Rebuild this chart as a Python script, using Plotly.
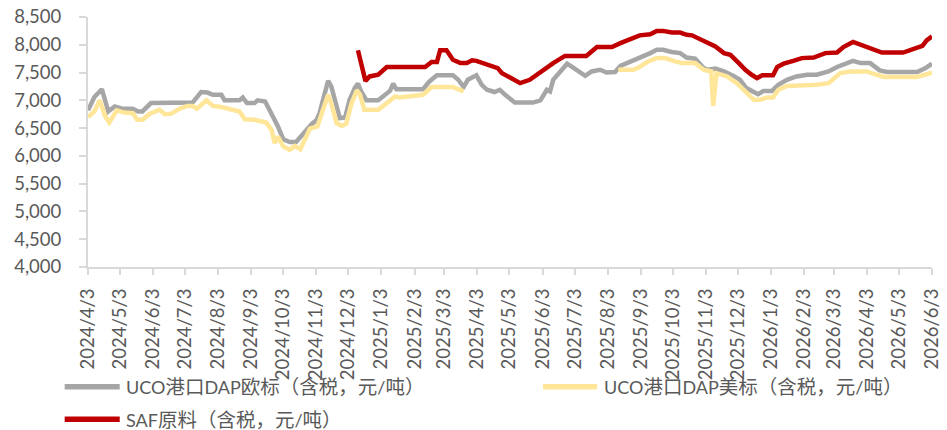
import re
import plotly.graph_objects as go

# ---------------- data ----------------
tick_dates = ["2024-04-03", "2024-05-03", "2024-06-03", "2024-07-03", "2024-08-03", "2024-09-03",
              "2024-10-03", "2024-11-03", "2024-12-03", "2025-01-03", "2025-02-03", "2025-03-03",
              "2025-04-03", "2025-05-03", "2025-06-03", "2025-07-03", "2025-08-03", "2025-09-03",
              "2025-10-03", "2025-11-03", "2025-12-03", "2026-01-03", "2026-02-03", "2026-03-03",
              "2026-04-03", "2026-05-03", "2026-06-03"]
tick_labels = ["2024/4/3", "2024/5/3", "2024/6/3", "2024/7/3", "2024/8/3", "2024/9/3",
               "2024/10/3", "2024/11/3", "2024/12/3", "2025/1/3", "2025/2/3", "2025/3/3",
               "2025/4/3", "2025/5/3", "2025/6/3", "2025/7/3", "2025/8/3", "2025/9/3",
               "2025/10/3", "2025/11/3", "2025/12/3", "2026/1/3", "2026/2/3", "2026/3/3",
               "2026/4/3", "2026/5/3", "2026/6/3"]

gray_dates = ["2024-04-03", "2024-04-09", "2024-04-16", "2024-04-22", "2024-04-28", "2024-05-05",
              "2024-05-15", "2024-05-20", "2024-05-24", "2024-06-01", "2024-07-10", "2024-07-18",
              "2024-07-24", "2024-07-29", "2024-08-06", "2024-08-09", "2024-08-23", "2024-08-26",
              "2024-08-30", "2024-09-06", "2024-09-09", "2024-09-16", "2024-09-20", "2024-09-25",
              "2024-09-28", "2024-10-03", "2024-10-09", "2024-10-15", "2024-10-20", "2024-10-25",
              "2024-10-30", "2024-11-03", "2024-11-06", "2024-11-11", "2024-11-14", "2024-11-17",
              "2024-11-22", "2024-11-25", "2024-11-30", "2024-12-04", "2024-12-09", "2024-12-12",
              "2024-12-15", "2024-12-20", "2024-12-31", "2025-01-06", "2025-01-11", "2025-01-14",
              "2025-01-17", "2025-02-11", "2025-02-17", "2025-02-24", "2025-03-11", "2025-03-16",
              "2025-03-21", "2025-03-25", "2025-03-30", "2025-04-02", "2025-04-07", "2025-04-12",
              "2025-04-19", "2025-04-24", "2025-04-29", "2025-05-08", "2025-05-25", "2025-06-01",
              "2025-06-07", "2025-06-10", "2025-06-13", "2025-06-18", "2025-06-22", "2025-06-26",
              "2025-06-30", "2025-07-07", "2025-07-13", "2025-07-19", "2025-07-27", "2025-08-02",
              "2025-08-10", "2025-08-15", "2025-08-24", "2025-09-02", "2025-09-12", "2025-09-18",
              "2025-09-24", "2025-10-02", "2025-10-10", "2025-10-16", "2025-10-24", "2025-11-01",
              "2025-11-05", "2025-11-12", "2025-11-20", "2025-11-29", "2025-12-05", "2025-12-11",
              "2025-12-18", "2025-12-22", "2025-12-27", "2026-01-04", "2026-01-10", "2026-01-18",
              "2026-01-27", "2026-02-06", "2026-02-15", "2026-02-26", "2026-03-06", "2026-03-15",
              "2026-03-21", "2026-03-28", "2026-04-06", "2026-04-15", "2026-04-22", "2026-05-20",
              "2026-05-28", "2026-06-03"]
gray_values = [6820, 7060, 7200, 6800, 6890, 6850,
               6850, 6800, 6800, 6950, 6960, 7150,
               7140, 7100, 7100, 7000, 7000, 7050,
               6950, 6950, 7000, 6980, 6830, 6660,
               6530, 6300, 6250, 6250, 6350, 6470,
               6580, 6640, 6770, 7130, 7350, 7250,
               6890, 6680, 6690, 7000, 7220, 7300,
               7160, 7000, 7000, 7100, 7170, 7300,
               7200, 7200, 7340, 7450, 7450, 7370,
               7240, 7370, 7420, 7450, 7280, 7190,
               7150, 7190, 7100, 6960, 6960, 7000,
               7190, 7160, 7370, 7490, 7580, 7660,
               7610, 7520, 7440, 7520, 7550, 7500,
               7510, 7620, 7690, 7780, 7850, 7910,
               7910, 7870, 7850, 7770, 7750, 7580,
               7550, 7570, 7520, 7440, 7370, 7220,
               7160, 7110, 7170, 7170, 7280, 7370,
               7430, 7460, 7460, 7520, 7600, 7670,
               7710, 7670, 7670, 7540, 7510, 7510,
               7580, 7660]

yellow_dates = ["2024-04-03", "2024-04-09", "2024-04-14", "2024-04-19", "2024-04-23", "2024-04-30",
                "2024-05-07", "2024-05-15", "2024-05-19", "2024-05-24", "2024-05-31", "2024-06-09",
                "2024-06-14", "2024-06-20", "2024-06-28", "2024-07-05", "2024-07-10", "2024-07-14",
                "2024-07-23", "2024-07-29", "2024-08-06", "2024-08-14", "2024-08-23", "2024-08-28",
                "2024-09-06", "2024-09-17", "2024-09-22", "2024-09-25", "2024-09-28", "2024-10-03",
                "2024-10-09", "2024-10-14", "2024-10-19", "2024-10-23", "2024-10-28", "2024-11-04",
                "2024-11-11", "2024-11-14", "2024-11-17", "2024-11-22", "2024-11-27", "2024-12-01",
                "2024-12-06", "2024-12-11", "2024-12-14", "2024-12-18", "2024-12-31", "2025-01-08",
                "2025-01-16", "2025-01-20", "2025-02-11", "2025-02-19", "2025-03-11", "2025-03-21",
                "2025-05-15",
                "2025-08-13", "2025-08-27", "2025-09-02", "2025-09-10", "2025-09-18", "2025-09-26",
                "2025-10-05", "2025-10-12", "2025-10-24", "2025-11-01", "2025-11-08", "2025-11-10",
                "2025-11-13", "2025-11-23", "2025-12-02", "2025-12-08", "2025-12-13", "2025-12-18",
                "2025-12-24", "2025-12-30", "2026-01-05", "2026-01-10", "2026-01-18", "2026-02-03",
                "2026-02-15", "2026-02-26", "2026-03-03", "2026-03-09", "2026-03-18", "2026-04-03",
                "2026-04-12", "2026-04-19", "2026-05-20", "2026-05-26", "2026-06-03"]
yellow_values = [6700, 6800, 7000, 6720, 6600, 6820,
                 6780, 6770, 6650, 6650, 6760, 6830,
                 6750, 6760, 6850, 6900, 6900, 6850,
                 7000, 6900, 6880, 6850, 6800, 6660,
                 6650, 6600, 6470, 6230, 6350, 6170,
                 6110, 6180, 6120, 6280, 6490, 6530,
                 6890, 7100, 6950, 6590, 6540, 6580,
                 6950, 7180, 7100, 6830, 6830, 6950,
                 7070, 7050, 7100, 7240, 7240, 7160,
                 None,
                 7550, 7550, 7600, 7700, 7760, 7760,
                 7700, 7670, 7670, 7550, 7520, 6900,
                 7490, 7430, 7310, 7190, 7100, 7010,
                 7010, 7050, 7050, 7190, 7260, 7260,
                 7280, 7310, 7400, 7490, 7520, 7520,
                 7460, 7420, 7420, 7460, 7500]

red_dates = ["2024-12-12", "2024-12-19", "2024-12-23", "2024-12-31", "2025-01-08", "2025-02-13",
             "2025-02-19", "2025-02-24", "2025-02-27", "2025-03-05", "2025-03-11", "2025-03-18",
             "2025-03-24", "2025-03-29", "2025-04-02", "2025-04-12", "2025-04-22", "2025-04-26",
             "2025-05-13", "2025-05-22", "2025-06-04", "2025-06-13", "2025-06-24", "2025-07-14",
             "2025-07-24", "2025-08-07", "2025-08-15", "2025-08-24", "2025-09-02", "2025-09-12",
             "2025-09-18", "2025-09-24", "2025-10-02", "2025-10-10", "2025-10-16", "2025-10-21",
             "2025-10-29", "2025-11-05", "2025-11-12", "2025-11-20", "2025-11-26", "2025-12-04",
             "2025-12-10", "2025-12-16", "2025-12-21", "2025-12-26", "2026-01-05", "2026-01-09",
             "2026-01-15", "2026-01-24", "2026-02-01", "2026-02-12", "2026-02-23", "2026-03-06",
             "2026-03-12", "2026-03-21", "2026-03-28", "2026-04-06", "2026-04-17", "2026-05-07",
             "2026-05-17", "2026-05-25", "2026-05-29", "2026-06-03"]
red_values = [7900, 7350, 7430, 7460, 7600, 7600,
              7690, 7690, 7900, 7900, 7730, 7670,
              7670, 7720, 7710, 7640, 7580, 7490,
              7310, 7370, 7550, 7670, 7800, 7800,
              7960, 7960, 8030, 8100, 8170, 8190,
              8250, 8250, 8220, 8220, 8180, 8170,
              8090, 8040, 7970, 7850, 7820, 7670,
              7550, 7460, 7400, 7450, 7450, 7600,
              7660, 7710, 7760, 7770, 7850, 7860,
              7960, 8050, 8000, 7940, 7860, 7860,
              7930, 7980, 8080, 8150]

series_names = ["UCO港口DAP欧标（含税，元/吨）", "UCO港口DAP美标（含税，元/吨）", "SAF原料（含税，元/吨）"]
series_colors = ["#A6A6A6", "#FFE699", "#C00000"]
y_ticks = [4000, 4500, 5000, 5500, 6000, 6500, 7000, 7500, 8000, 8500]

# ---------------- figure ----------------
FONT = "Lato, 'Noto Sans CJK SC', sans-serif"
TXT = "#595959"
AX = "#D9D9D9"

fig = go.Figure()
for name, color, xs, ys in [
    (series_names[0], series_colors[0], gray_dates, gray_values),
    (series_names[1], series_colors[1], yellow_dates, yellow_values),
    (series_names[2], series_colors[2], red_dates, red_values),
]:
    fig.add_trace(go.Scatter(x=xs, y=ys, name=name, mode="lines", connectgaps=False,
                             line=dict(color=color, width=4.5, shape="linear"),
                             hoverinfo="x+y+name"))

fig.update_layout(
    width=947, height=430,
    margin=dict(l=88, r=15, t=17, b=163, autoexpand=False),
    paper_bgcolor="white", plot_bgcolor="white",
    showlegend=False,
    font=dict(family=FONT, size=18, color=TXT),
)
fig.update_xaxes(
    type="date", range=[tick_dates[0], tick_dates[-1]], automargin=False,
    tickmode="array", tickvals=tick_dates, ticktext=tick_labels,
    tickangle=-90, ticks="outside", ticklen=6, tickwidth=1.5, tickcolor=AX,
    showline=True, linecolor=AX, linewidth=2, showgrid=False, zeroline=False,
    tickfont=dict(family=FONT, size=18.5, color=TXT), ticklabelstandoff=6,
)
fig.update_yaxes(
    range=[4000, 8500], tickmode="array", tickvals=y_ticks, automargin=False,
    tickformat=",d", ticks="outside", ticklen=7, tickwidth=1.5, tickcolor=AX,
    showline=True, linecolor=AX, linewidth=2, showgrid=False, zeroline=False,
    tickfont=dict(family=FONT, size=18.5, color=TXT), ticklabelstandoff=14,
)

# legend drawn manually (line swatches + text) below the axis
W, H = 843.4, 250.3
def px(xp):
    return (xp - 88.3) / W
def py(yp):
    return (267 - yp) / H

def legend_markup(s):
    # CJK glyphs in the reference are drawn a little larger than the Latin ones
    return re.sub(r"([^\x00-\x7f]+)", r"<span style='font-size:19.5px'>\1</span>", s)

legend_items = [
    (series_names[0], series_colors[0], 65, 120, 124, 387),
    (series_names[1], series_colors[1], 543, 597, 602, 387),
    (series_names[2], series_colors[2], 65, 120, 124, 419.5),
]
for name, color, x0, x1, xt, yc in legend_items:
    fig.add_shape(type="line", xref="paper", yref="paper",
                  x0=px(x0), x1=px(x1), y0=py(yc), y1=py(yc),
                  line=dict(color=color, width=5.5))
    fig.add_annotation(text=legend_markup(name), xref="paper", yref="paper", x=px(xt), y=py(yc),
                       xanchor="left", yanchor="middle", showarrow=False,
                       font=dict(family=FONT, size=18, color=TXT))

# remove the default 8px page margin so the 947x430 figure fills the window exactly
fig.write_html("out.html", config={"displayModeBar": False},
               post_script="document.body.style.margin='0';document.body.style.overflow='hidden';")
